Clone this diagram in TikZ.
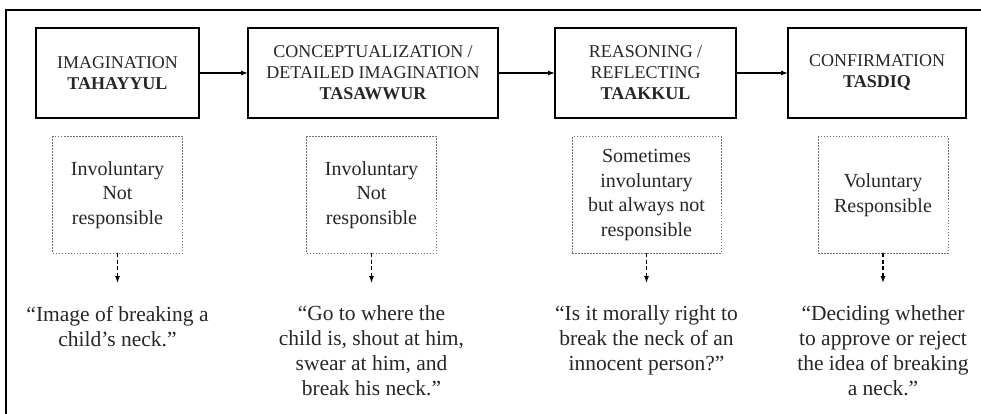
\documentclass[tikz,border=0pt]{standalone}
\usepackage{fontspec}
\setmainfont{Liberation Serif}
\usetikzlibrary{positioning,arrows.meta}

\begin{document}
\begin{tikzpicture}[x=1pt,y=1pt,>={Latex[length=7pt,width=5pt]},line width=1.2pt,
    stage/.style={rectangle,draw,line width=1.4pt,minimum height=90pt,inner sep=0pt,outer sep=0pt,
                  align=center,text=black!85,font=\fontsize{18}{21}\selectfont},
    note/.style={rectangle,draw=black!55,line width=1pt,dash pattern=on 1.5pt off 1.5pt,minimum width=130pt,minimum height=116pt,
                 inner sep=0pt,outer sep=0pt,align=center,text=black!85,font=\fontsize{20}{24.5}\selectfont},
    instance/.style={inner sep=0pt,outer sep=0pt,align=center,text=black!85,font=\fontsize{21.5}{25}\selectfont}]

  \useasboundingbox (0,0) rectangle (981,-414);
  \draw[line width=1.3pt] (6,-414) -- (6,-10) -- (981,-10);

  % stages
  \node[stage,minimum width=163pt] (imag) at (117.5,-73) {IMAGINATION\\\textbf{TAHAYYUL}};
  \node[stage,minimum width=250pt] (concept) [right=49pt of imag] {CONCEPTUALIZATION /\\DETAILED IMAGINATION\\\textbf{TASAWWUR}};
  \node[stage,minimum width=181pt] (reason) [right=57pt of concept] {REASONING /\\REFLECTING\\\textbf{TAAKKUL}};
  \node[stage,minimum width=178pt] (confirm) [right=52pt of reason] {CONFIRMATION\\\textbf{TASDIQ}};

  % responsibility
  \node[note] (imagnote) [below=19pt of imag] {Involuntary\\Not\\responsible};
  \node[note] (conceptnote) [below=19pt of concept,xshift=-1.5pt] {Involuntary\\Not\\responsible};
  \node[note,minimum width=149pt] (reasonnote) [below=19pt of reason,xshift=1pt] {Sometimes\\involuntary\\but always not\\responsible};
  \node[note] (confirmnote) [below=19pt of confirm,xshift=6pt] {Voluntary\\Responsible};

  % examples
  \node[instance] (imagex) [below=53pt of imagnote] {“Image of breaking a\\child’s neck.”};
  \node[instance] (conceptex) [below=53pt of conceptnote] {“Go to where the\\child is, shout at him,\\swear at him, and\\break his neck.”};
  \node[instance] (reasonex) [below=53pt of reasonnote] {“Is it morally right to\\break the neck of an\\innocent person?”};
  \node[instance] (confirmex) [below=53pt of confirmnote] {“Deciding whether\\to approve or reject\\the idea of breaking\\a neck.”};

  \path[->]
    (imag) edge (concept)
    (concept) edge (reason)
    (reason) edge (confirm);

  \path[->,dash pattern=on 4pt off 2.5pt,shorten >=23pt]
    (imagnote) edge (imagex)
    (conceptnote) edge (conceptex)
    (reasonnote) edge (reasonex)
    (confirmnote) edge (confirmex);

\end{tikzpicture}
\end{document}
